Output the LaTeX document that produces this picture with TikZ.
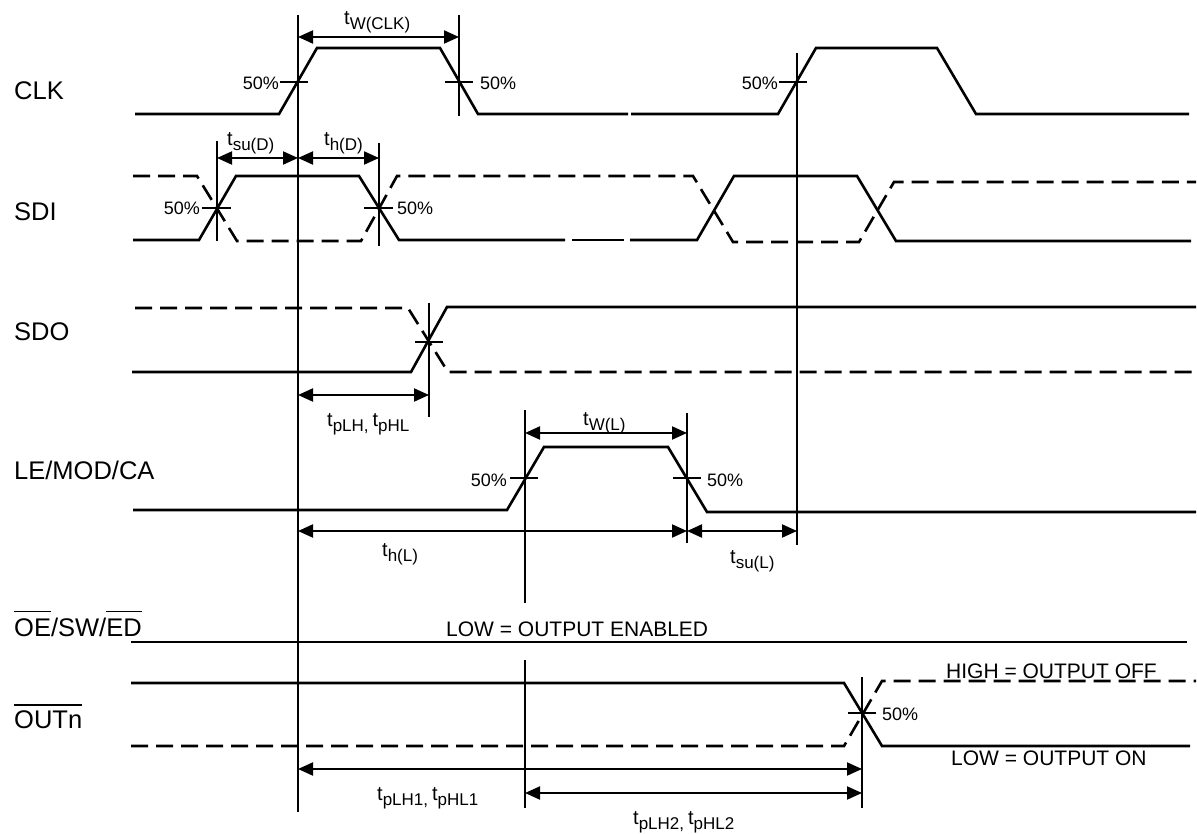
\documentclass[tikz,border=0pt]{standalone}
\usepackage{fontspec}
\setmainfont{Liberation Sans}
\usetikzlibrary{arrows.meta}
\newcommand\tlab[1]{{\fontsize{20}{20}\selectfont t}\raisebox{-5pt}{\fontsize{17}{17}\selectfont #1}}
\newcommand\ovl[2][24pt]{\setbox0\hbox{#2}\rlap{\rule[#1]{\wd0}{1.3pt}}\box0}
\begin{document}
\begin{tikzpicture}[x=1pt,y=-1pt,
  sig/.style={line width=2.6pt},
  dsig/.style={line width=2.6pt, dash pattern=on 17pt off 8pt},
  vref/.style={line width=1.6pt},
  tickmark/.style={line width=1.6pt},
  dimarrow/.style={line width=2pt,{Triangle[length=15pt,width=13pt]}-{Triangle[length=15pt,width=13pt]}},
  siglab/.style={anchor=base west, inner sep=0pt, font=\fontsize{25.5}{25.5}\selectfont},
  pct/.style={inner sep=0pt, font=\fontsize{18}{18}\selectfont},
  tl/.style={anchor=base west, inner sep=0pt},
  note/.style={anchor=base west, inner sep=0pt, font=\fontsize{21}{21}\selectfont}]
\fill[white] (0,0) rectangle (1197,834);
\useasboundingbox (0,0) rectangle (1197,834);

% signal labels
\node[siglab] (lclk) at (14,100) {CLK};
\node[siglab] (lsdi) at (14,221) {SDI};
\node[siglab] (lsdo) at (14,341) {SDO};
\node[siglab] (lle) at (14,479) {LE/MOD/CA};
\node[siglab] (loe) at (14,636) {\ovl{OE}/SW/\ovl{ED}};
\node[siglab] (lout) at (14,728) {\ovl[22.5pt]{OUTn}};

% CLK
\draw[sig] (135,114) -- (279,114) -- (317,48) -- (440,48) -- (478,114) -- (628,114);
\draw[sig] (631,114) -- (778,114) -- (816,48) -- (937,48) -- (976,114) -- (1189,114);

% SDI
\draw[sig] (133,240) -- (199,240) -- (236,176) -- (359,176) -- (399,240) -- (565,240);
\draw[sig] (572,240) -- (624,240);
\draw[sig] (630,240) -- (697,240) -- (734,176) -- (857,176) -- (896,241) -- (1191,241);
\draw[dsig] (133,176) -- (197,176) -- (237,241) -- (361,241) -- (397,176) -- (693,176) -- (733,242) -- (859,242) -- (894,182) -- (1196,182);

% SDO
\draw[sig] (132,372) -- (411,372) -- (447,307) -- (1196,307);
\draw[dsig] (135,308) -- (408,308) -- (448,372) -- (1196,372);

% LE/MOD/CA
\draw[sig] (133,510) -- (507,510) -- (544,447) -- (668,447) -- (707,512) -- (1196,512);

% OE
\draw[sig] (131,642) -- (1187,642);

% OUTn
\draw[sig] (131,683) -- (844,683) -- (882,746) -- (1190,746);
\draw[dsig] (131,746) -- (844,746) -- (882,681) -- (1196,681);

% reference lines
\coordinate (r1t) at (298,15); \coordinate (r1b) at (298,812);
\coordinate (r2t) at (459,15); \coordinate (r2b) at (459,116);
\coordinate (r3t) at (797,53); \coordinate (r3b) at (797,545);
\coordinate (r4t) at (217,141); \coordinate (r4b) at (217,241);
\coordinate (r5t) at (379,143); \coordinate (r5b) at (379,246);
\coordinate (r6t) at (429,303); \coordinate (r6b) at (429,417);
\coordinate (r7t) at (525,410); \coordinate (r7m) at (525,603);
\coordinate (r7n) at (525,660); \coordinate (r7b) at (525,808);
\coordinate (r8t) at (687,413); \coordinate (r8b) at (687,543);
\coordinate (r9t) at (862,677); \coordinate (r9b) at (862,808);
\draw[vref] (r1t) -- (r1b);
\draw[vref] (r2t) -- (r2b);
\draw[vref] (r3t) -- (r3b);
\draw[vref] (r4t) -- (r4b);
\draw[vref] (r5t) -- (r5b);
\draw[vref] (r6t) -- (r6b);
\draw[vref] (r7t) -- (r7m);
\draw[vref] (r7n) -- (r7b);
\draw[vref] (r8t) -- (r8b);
\draw[vref] (r9t) -- (r9b);

% 50% ticks
\draw[tickmark] (280,82) -- (308,82);
\draw[tickmark] (445,82) -- (473,82);
\draw[tickmark] (779,82) -- (807,82);
\draw[tickmark] (202,208) -- (231,208);
\draw[tickmark] (364,208) -- (393,208);
\draw[tickmark] (415,342) -- (443,342);
\draw[tickmark] (510,478) -- (538,478);
\draw[tickmark] (673,478) -- (701,478);
\draw[tickmark] (848,713) -- (876,713);

% 50% labels
\node[pct,anchor=base east] (p1) at (279,90) {50\%};
\node[pct,anchor=base west] (p2) at (480,90) {50\%};
\node[pct,anchor=base east] (p3) at (778,90) {50\%};
\node[pct,anchor=base east] (p4) at (200,215) {50\%};
\node[pct,anchor=base west] (p5) at (397,215) {50\%};
\node[pct,anchor=base east] (p6) at (507,486) {50\%};
\node[pct,anchor=base west] (p7) at (707,486) {50\%};
\node[pct,anchor=base west] (p8) at (882,720) {50\%};

% dimension arrows
\coordinate (a1l) at (298,37); \coordinate (a1r) at (459,37);
\coordinate (a2l) at (217,158); \coordinate (a2r) at (298,158);
\coordinate (a3l) at (298,158); \coordinate (a3r) at (379,158);
\coordinate (a4l) at (298,395); \coordinate (a4r) at (429,395);
\coordinate (a5l) at (525,433); \coordinate (a5r) at (687,433);
\coordinate (a6l) at (298,531); \coordinate (a6r) at (687,531);
\coordinate (a7l) at (687,531); \coordinate (a7r) at (797,531);
\coordinate (a8l) at (298,769); \coordinate (a8r) at (862,769);
\coordinate (a9l) at (525,793); \coordinate (a9r) at (862,793);
\draw[dimarrow] (a1l) -- (a1r);
\draw[dimarrow] (a2l) -- (a2r);
\draw[dimarrow] (a3l) -- (a3r);
\draw[dimarrow] (a4l) -- (a4r);
\draw[dimarrow] (a5l) -- (a5r);
\draw[dimarrow] (a6l) -- (a6r);
\draw[dimarrow] (a7l) -- (a7r);
\draw[dimarrow] (a8l) -- (a8r);
\draw[dimarrow] (a9l) -- (a9r);

% timing labels
\node[tl] (t1) at (344,25) {\tlab{W(CLK)}};
\node[tl] (t2) at (227,146) {\tlab{su(D)}};
\node[tl] (t3) at (324,146) {\tlab{h(D)}};
\node[tl] (t4) at (327,426) {\tlab{pLH,}\hspace{4pt}\tlab{pHL}};
\node[tl] (t5) at (583,425) {\tlab{W(L)}};
\node[tl] (t6) at (382,556) {\tlab{h(L)}};
\node[tl] (t7) at (730,563) {\tlab{su(L)}};
\node[tl] (t8) at (377,800) {\tlab{pLH1,}\hspace{4pt}\tlab{pHL1}};
\node[tl] (t9) at (633,824) {\tlab{pLH2,}\hspace{4pt}\tlab{pHL2}};

% notes
\node[note] (n1) at (446,636) {LOW = OUTPUT ENABLED};
\node[note] (n2) at (946,678) {HIGH = OUTPUT OFF};
\node[note] (n3) at (951,765) {LOW = OUTPUT ON};
\end{tikzpicture}
\end{document}
